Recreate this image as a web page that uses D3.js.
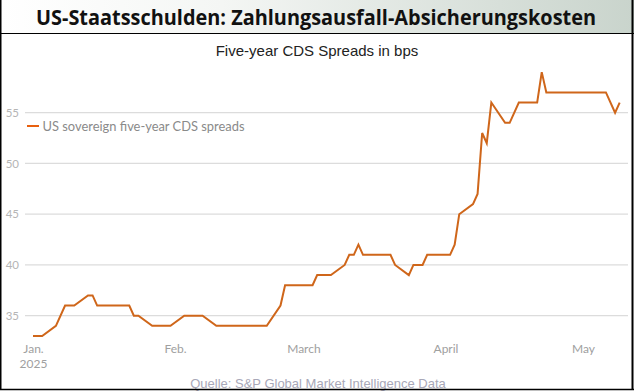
<!DOCTYPE html>
<html>
<head>
<meta charset="utf-8">
<script src="https://cdn.jsdelivr.net/npm/d3@7"></script>
<style>
  html, body { margin: 0; padding: 0; background: #fff; }
  svg { display: block; }
</style>
</head>
<body>
<svg id="chart" width="634" height="392"></svg>
<script>
// ---- data ----
const title = "US-Staatsschulden: Zahlungsausfall-Absicherungskosten";
const subtitle = "Five-year CDS Spreads in bps";
const seriesName = "US sovereign five-year CDS spreads";
const source = "Quelle: S&P Global Market Intelligence Data";

const dates = [
  "2025-01-01","2025-01-03","2025-01-06","2025-01-08","2025-01-10","2025-01-13","2025-01-14","2025-01-15",
  "2025-01-22","2025-01-23","2025-01-24","2025-01-27","2025-01-31","2025-02-03","2025-02-07","2025-02-10",
  "2025-02-21","2025-02-24","2025-02-25","2025-03-03","2025-03-04","2025-03-07","2025-03-10","2025-03-11",
  "2025-03-12","2025-03-13","2025-03-14","2025-03-20","2025-03-21","2025-03-24","2025-03-25","2025-03-27",
  "2025-03-28","2025-04-02","2025-04-03","2025-04-04","2025-04-07","2025-04-08","2025-04-09","2025-04-10",
  "2025-04-11","2025-04-14","2025-04-15","2025-04-17","2025-04-21","2025-04-22","2025-04-23","2025-05-06",
  "2025-05-08","2025-05-09"
];
const spreads = [
  33,33,34,36,36,37,37,36,
  36,35,35,34,34,35,35,34,
  34,36,38,38,39,39,40,41,
  41,42,41,41,40,39,40,40,
  41,41,42,45,46,47,53,52,
  56,54,54,56,56,59,57,57,
  55,56
];
const yTicks = [35, 40, 45, 50, 55];
const xTickDates = ["2025-01-01","2025-02-01","2025-03-01","2025-04-01","2025-05-01"];
const xTickLabels = [["Jan.","2025"],["Feb."],["March"],["April"],["May"]];

// ---- drawing ----
const svg = d3.select("#chart");
const W = 634, H = 392;
const parse = d3.utcParse("%Y-%m-%d");
const data = dates.map((d, i) => ({ date: parse(d), value: spreads[i] }));

const x = d3.scaleUtc()
  .domain([parse("2025-01-01"), parse("2025-05-01")])
  .range([33, 583]);
const y = d3.scaleLinear().domain([35, 55]).range([315.7, 112.7]);

// banner gradient
const defs = svg.append("defs");
const grad = defs.append("linearGradient").attr("id", "bannerGrad")
  .attr("x1", "0%").attr("x2", "100%").attr("y1", "0%").attr("y2", "0%");
grad.append("stop").attr("offset", "0%").attr("stop-color", "#ffffff");
grad.append("stop").attr("offset", "35%").attr("stop-color", "#f4f6f4");
grad.append("stop").attr("offset", "100%").attr("stop-color", "#c9d4cc");

svg.append("rect").attr("x", 0).attr("y", 0).attr("width", W).attr("height", 33)
  .attr("fill", "url(#bannerGrad)");
svg.append("line").attr("x1", 0).attr("x2", W).attr("y1", 33.5).attr("y2", 33.5)
  .attr("stroke", "#000").attr("stroke-width", 1.2);

svg.append("text")
  .attr("x", 36).attr("y", 25)
  .attr("textLength", 560).attr("lengthAdjust", "spacingAndGlyphs")
  .style("font-family", "'Open Sans', 'DejaVu Sans', sans-serif")
  .style("font-weight", "bold").style("font-size", "21px").attr("fill", "#111")
  .text(title);

svg.append("text")
  .attr("x", 317).attr("y", 56).attr("text-anchor", "middle")
  .style("font-family", "'Liberation Sans', Arial, sans-serif")
  .style("font-size", "15px").attr("fill", "#222")
  .text(subtitle);

// gridlines
const grid = svg.append("g");
grid.selectAll("line").data(yTicks).join("line")
  .attr("x1", 25).attr("x2", 628)
  .attr("y1", d => y(d)).attr("y2", d => y(d))
  .attr("stroke", "#dcdcdc").attr("stroke-width", 1.3);

// y axis labels
const yAxis = d3.axisLeft(y).tickValues(yTicks).tickSize(0).tickPadding(0);
const yg = svg.append("g").attr("transform", "translate(19,0)").call(yAxis);
yg.select(".domain").remove();
yg.selectAll("text")
  .style("font-family", "Lato, 'Open Sans', sans-serif")
  .style("font-size", "11.5px").attr("fill", "#b5b5b5");

// x axis labels
const xAxis = d3.axisBottom(x).tickValues(xTickDates.map(parse)).tickSize(0).tickFormat(() => "");
const xg = svg.append("g").attr("transform", "translate(0,341)").call(xAxis);
xg.select(".domain").remove();
xg.selectAll(".tick text").each(function(d, i) {
  const t = d3.select(this).attr("y", 0).attr("dy", null);
  xTickLabels[i].forEach((lab, j) => {
    t.append("tspan").attr("x", 0).attr("y", 12 + j * 15).text(lab);
  });
});
xg.selectAll("text")
  .style("font-family", "Lato, 'Open Sans', sans-serif")
  .style("font-size", "12px").attr("fill", "#a0a0a0");

// line
const line = d3.line().x(d => x(d.date)).y(d => y(d.value));
svg.append("path").datum(data)
  .attr("d", line)
  .attr("fill", "none")
  .attr("stroke", "#cf661a")
  .attr("stroke-width", 2)
  .attr("stroke-linejoin", "miter");

// legend
svg.append("line").attr("x1", 27).attr("x2", 39).attr("y1", 126).attr("y2", 126)
  .attr("stroke", "#e8600e").attr("stroke-width", 2);
svg.append("text").attr("x", 42.5).attr("y", 131)
  .attr("textLength", 202).attr("lengthAdjust", "spacingAndGlyphs")
  .style("font-family", "Lato, 'Open Sans', sans-serif")
  .style("font-size", "14px").attr("fill", "#8a8a8a")
  .text(seriesName);

// source
svg.append("text").attr("x", 318).attr("y", 388).attr("text-anchor", "middle")
  .style("font-family", "'Liberation Sans', Arial, sans-serif")
  .style("font-size", "13px").attr("fill", "#a8a8b8")
  .text(source);

// outer border
svg.append("line").attr("x1", 0.75).attr("x2", 0.75).attr("y1", 0).attr("y2", 390)
  .attr("stroke", "#000").attr("stroke-width", 1.5);
svg.append("line").attr("x1", 632.5).attr("x2", 632.5).attr("y1", 0).attr("y2", 390)
  .attr("stroke", "#000").attr("stroke-width", 2);
svg.append("line").attr("x1", 0).attr("x2", W).attr("y1", 389.5).attr("y2", 389.5)
  .attr("stroke", "#000").attr("stroke-width", 1.5);
</script>
</body>
</html>
